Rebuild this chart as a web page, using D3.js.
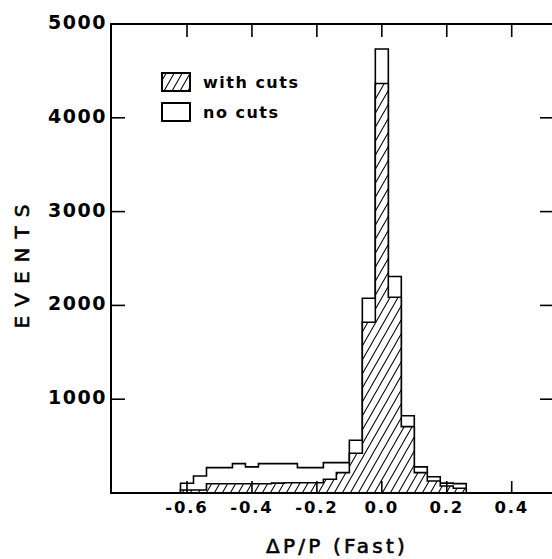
<!DOCTYPE html>
<html><head><meta charset="utf-8">
<script src="https://cdn.jsdelivr.net/npm/d3@7"></script>
<style>body{margin:0;background:#fff}svg{display:block}</style>
</head><body>
<script>
// Bin centers (ΔP/P), bin width 0.04
const binCenters = [-0.60,-0.56,-0.52,-0.48,-0.44,-0.40,-0.36,-0.32,-0.28,-0.24,-0.20,-0.16,-0.12,-0.08,-0.04,0.00,0.04,0.08,0.12,0.16,0.20,0.24];
const noCuts   = [104,182,270,270,313,278,313,313,313,270,270,324,324,563,2076,4733,2308,823,278,174,105,100];
const withCuts = [32,32,99,99,99,99,99,105,110,110,110,146,217,424,1820,4366,2087,708,217,128,75,50];
const binWidth = 0.04;
const xTicks = [-0.6,-0.4,-0.2,0.0,0.2,0.4];
const xTickLabels = ["-0.6","-0.4","-0.2","0.0","0.2","0.4"];
const yTicks = [1000,2000,3000,4000,5000];
const yTickLabels = ["1000","2000","3000","4000","5000"];

(function(){
const W = 552, H = 559;
const svg = d3.select("body").append("svg").attr("width", W).attr("height", H);
const x = d3.scaleLinear().domain([-0.6, 0.4]).range([187, 511.7]);
const y = d3.scaleLinear().domain([0, 5000]).range([493, 24]);
const fLeft = 111, fRight = 556, fTop = y(5000), fBottom = y(0);

const defs = svg.append("defs");
const pat = defs.append("pattern").attr("id","hatch").attr("patternUnits","userSpaceOnUse")
  .attr("width",8).attr("height",14);
pat.append("rect").attr("width",8).attr("height",14).attr("fill","#fff");
pat.append("path").attr("d","M-4,7 L4,-7 M0,14 L8,0 M4,21 L12,7").attr("stroke","#000").attr("stroke-width",1.1);

function stepPath(vals){
  const pts = [[x(binCenters[0]-binWidth/2), y(0)]];
  vals.forEach((v,i)=>{
    pts.push([x(binCenters[i]-binWidth/2), y(v)]);
    pts.push([x(binCenters[i]+binWidth/2), y(v)]);
  });
  pts.push([x(binCenters[binCenters.length-1]+binWidth/2), y(0)]);
  return d3.line()(pts);
}

svg.append("path").attr("d", stepPath(noCuts)).attr("fill","#fff").attr("stroke","#000").attr("stroke-width",1.6);
svg.append("path").attr("d", stepPath(withCuts)).attr("fill","url(#hatch)").attr("stroke","#000").attr("stroke-width",1.6);

const g = svg.append("g").attr("stroke","#000").attr("fill","none");
g.append("path").attr("d", `M${fLeft},${fTop} L${fLeft},${fBottom} L${fRight},${fBottom} L${fRight},${fTop} Z`).attr("stroke-width",2);

xTicks.forEach(t=>{
  g.append("line").attr("x1",x(t)).attr("x2",x(t)).attr("y1",fBottom).attr("y2",fBottom-12).attr("stroke-width",1.6);
  g.append("line").attr("x1",x(t)).attr("x2",x(t)).attr("y1",fTop).attr("y2",fTop+13).attr("stroke-width",1.6);
});
yTicks.forEach(t=>{
  g.append("line").attr("x1",fLeft).attr("x2",fLeft+14).attr("y1",y(t)).attr("y2",y(t)).attr("stroke-width",1.6);
  g.append("line").attr("x1",fRight).attr("x2",fRight-16).attr("y1",y(t)).attr("y2",y(t)).attr("stroke-width",1.6);
});

const font = "'DejaVu Sans', sans-serif";
svg.append("g").selectAll("text").data(xTicks).join("text")
  .attr("x", d=>x(d)).attr("y", 513).attr("text-anchor","middle")
  .attr("font-family",font).attr("font-weight","bold").attr("font-size",16.5).attr("letter-spacing",1.8)
  .text((d,i)=>xTickLabels[i]);
svg.append("g").selectAll("text").data(yTicks).join("text")
  .attr("x", 107).attr("y", d=>y(d)+5).attr("text-anchor","end")
  .attr("font-family",font).attr("font-weight","bold").attr("font-size",19).attr("letter-spacing",1.5)
  .text((d,i)=>yTickLabels[i]);

svg.append("text").attr("x",337).attr("y",553).attr("text-anchor","middle")
  .attr("font-family",font).attr("font-size",20).attr("letter-spacing",3.2)
  .attr("stroke","#000").attr("stroke-width",0.6)
  .text("ΔP/P (Fast)");
svg.append("text").attr("transform","translate(29,262) rotate(-90)").attr("text-anchor","middle")
  .attr("font-family",font).attr("font-size",20).attr("letter-spacing",9)
  .attr("stroke","#000").attr("stroke-width",0.6)
  .text("EVENTS");

svg.append("rect").attr("x",162).attr("y",73).attr("width",28).attr("height",18).attr("fill","url(#hatch)").attr("stroke","#000").attr("stroke-width",2);
svg.append("rect").attr("x",162).attr("y",103).attr("width",28).attr("height",18).attr("fill","#fff").attr("stroke","#000").attr("stroke-width",2);
svg.append("text").attr("x",203).attr("y",88).attr("font-family",font).attr("font-weight","bold").attr("font-size",16).attr("letter-spacing",1.5).text("with cuts");
svg.append("text").attr("x",203).attr("y",118).attr("font-family",font).attr("font-weight","bold").attr("font-size",16).attr("letter-spacing",1.5).text("no cuts");
})();
</script>
</body></html>
